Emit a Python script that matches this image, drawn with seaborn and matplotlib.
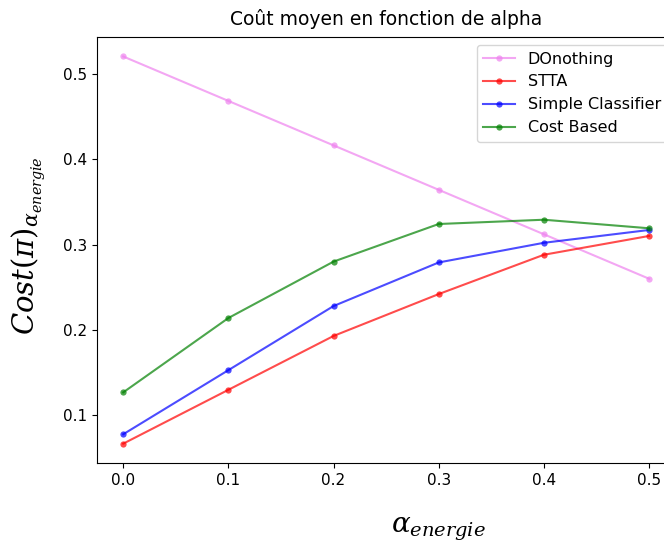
import matplotlib
matplotlib.use("Agg")
import matplotlib.pyplot as plt
import pandas as pd
import seaborn as sns

# values
alpha = [0.0, 0.1, 0.2, 0.3, 0.4, 0.5]
do_nothing = [0.520, 0.468, 0.416, 0.364, 0.312, 0.260]
stta = [0.067, 0.130, 0.193, 0.242, 0.288, 0.310]
simple_clf = [0.078, 0.153, 0.228, 0.279, 0.302, 0.317]
cost_based = [0.127, 0.214, 0.280, 0.324, 0.329, 0.319]

series = {
    "DOnothing": (do_nothing, "violet"),
    "STTA": (stta, "red"),
    "Simple Classifier": (simple_clf, "blue"),
    "Cost Based": (cost_based, "green"),
}

plt.rcParams["mathtext.fontset"] = "dejavuserif"

fig = plt.figure(figsize=(6.64, 5.46), dpi=100)
# axes right edge runs past the figure, like the cropped reference
ax = fig.add_axes([0.146, 0.152, 0.871, 0.780])

for name, (vals, col) in series.items():
    df = pd.DataFrame({"alpha": alpha, "cost": vals})
    sns.lineplot(data=df, x="alpha", y="cost", ax=ax, color=col, alpha=0.7,
                 marker="o", markersize=4.5, markeredgewidth=0, label=name)

ax.set_title("Coût moyen en fonction de alpha", fontsize=13.5, pad=9)
ax.set_xlabel(r"$\alpha_{energie}$", fontsize=20)
ax.set_ylabel(r"$Cost(\pi)_{\alpha_{energie}}$", fontsize=21)
ax.xaxis.set_label_coords(0.59, -0.122)
ax.yaxis.set_label_coords(-0.085, 0.51)
ax.tick_params(labelsize=11)
ax.legend(loc="upper right", fontsize=11.5)

fig.savefig("out.png", dpi=100)
plt.close()
